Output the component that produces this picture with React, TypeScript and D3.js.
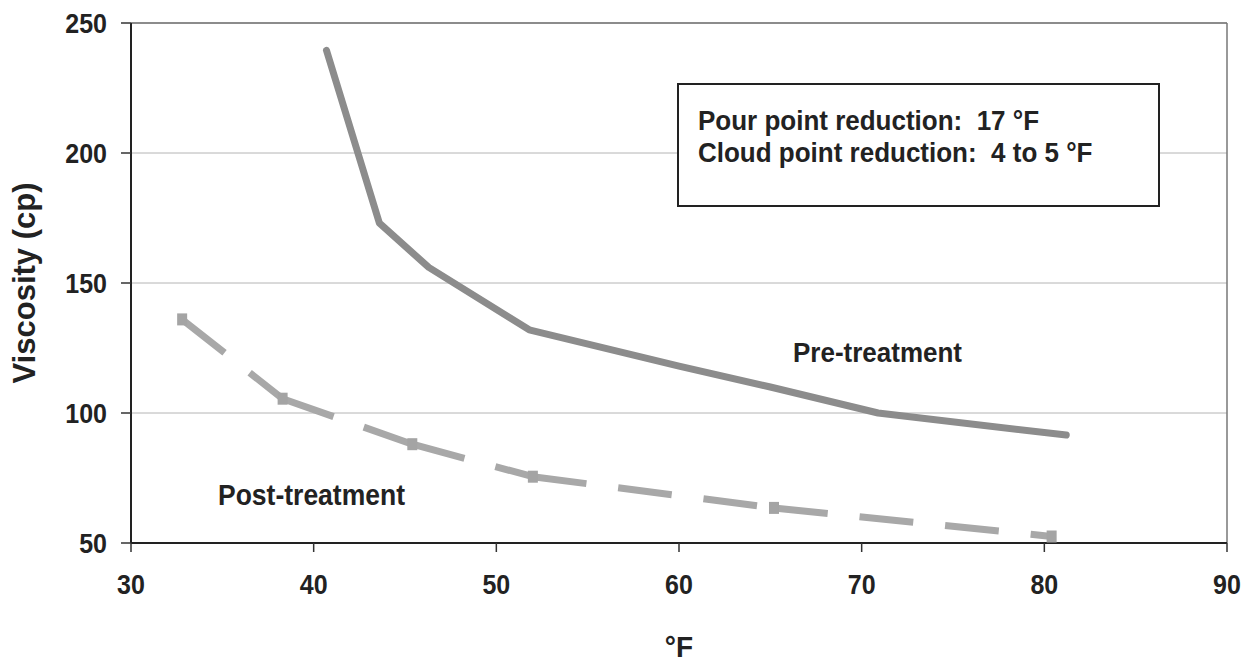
import React from 'react';
import * as d3 from 'd3';

// Viscosity vs temperature, before and after treatment
const preTemp = [40.7, 43.6, 46.3, 51.8, 60, 65, 70.9, 81.2];
const preVisc = [239.5, 173, 156, 132, 118, 110, 100, 91.5];

const postTemp = [32.8, 38.3, 45.4, 52, 65.2, 80.4];
const postVisc = [136, 105.5, 88, 75.5, 63.5, 52.5];

const xTicks = [30, 40, 50, 60, 70, 80, 90];
const yTicks = [50, 100, 150, 200, 250];

const noteLines = ['Pour point reduction:  17 °F', 'Cloud point reduction:  4 to 5 °F'];

const W = 1245;
const H = 665;
const font = "'Liberation Sans', Arial, sans-serif";

// scanned text is a little taller than it is wide
const T: React.FC<{
  x: number;
  y: number;
  size: number;
  sy?: number;
  anchor?: 'start' | 'middle' | 'end';
  rotate?: number;
  children: React.ReactNode;
}> = ({ x, y, size, sy = 1.08, anchor = 'start', rotate = 0, children }) => (
  <text
    transform={`translate(${x},${y}) rotate(${rotate}) scale(1,${sy})`}
    textAnchor={anchor}
    fontSize={size}
    fill="#222"
    style={{ whiteSpace: 'pre' }}
  >
    {children}
  </text>
);

const App: React.FC = () => {
  const x = d3.scaleLinear().domain([30, 90]).range([131, 1227]);
  const y = d3.scaleLinear().domain([50, 250]).range([543, 23]);

  const line = d3
    .line<[number, number]>()
    .x((d) => x(d[0]))
    .y((d) => y(d[1]));

  const pre: [number, number][] = preTemp.map((t, i) => [t, preVisc[i]]);
  const post: [number, number][] = postTemp.map((t, i) => [t, postVisc[i]]);
  // Excel restarts the dash pattern at every point, so draw each segment on its own
  const postSegs = d3.pairs(post);

  const [x0, x1] = x.range();
  const [y0, y1] = y.range();

  return (
    <svg
      width={W}
      height={H}
      style={{ position: 'fixed', left: 0, top: 0, background: '#fff' }}
      fontFamily={font}
      fontWeight="bold"
    >
      {/* grid */}
      {yTicks.map((t) => (
        <line
          key={t}
          x1={x0}
          x2={x1}
          y1={y(t)}
          y2={y(t)}
          stroke={t === 250 ? '#666' : '#b4b4b4'}
          strokeWidth={t === 250 ? 1.5 : 1}
        />
      ))}
      <line x1={x1} x2={x1} y1={y1} y2={y0} stroke="#777" strokeWidth={1.5} />

      {/* axes */}
      <line x1={x0} x2={x0} y1={y1} y2={y0} stroke="#222" strokeWidth={2} />
      <line x1={x0} x2={x1} y1={y0} y2={y0} stroke="#222" strokeWidth={2} />
      {yTicks.map((t) => (
        <g key={t}>
          <line x1={x0 - 10} x2={x0} y1={y(t)} y2={y(t)} stroke="#333" strokeWidth={1.5} />
          <T x={x0 - 24} y={y(t) + 9.5} size={25} sy={1.12} anchor="end">
            {t}
          </T>
        </g>
      ))}
      {xTicks.map((t) => (
        <g key={t}>
          <line x1={x(t)} x2={x(t)} y1={y0} y2={y0 + 9} stroke="#333" strokeWidth={1.5} />
          <T x={x(t)} y={y0 + 51} size={25} sy={1.1} anchor="middle">
            {t}
          </T>
        </g>
      ))}

      {/* axis titles */}
      <T x={35} y={(y0 + y1) / 2} size={31} sy={1} rotate={-90} anchor="middle">
        Viscosity (cp)
      </T>
      <T x={(x0 + x1) / 2} y={657} size={28} sy={1.05} anchor="middle">
        °F
      </T>

      {/* series */}
      <path
        d={line(pre) ?? ''}
        fill="none"
        stroke="#8c8c8c"
        strokeWidth={7}
        strokeLinejoin="round"
        strokeLinecap="round"
      />
      {postSegs.map(([a, b], i) => (
        <path
          key={i}
          d={line([a, b]) ?? ''}
          fill="none"
          stroke="#a8a8a8"
          strokeWidth={7}
          strokeDasharray="54 32"
        />
      ))}
      {post.map((d, i) => (
        <rect key={i} x={x(d[0]) - 5} y={y(d[1]) - 6} width={10} height={12} fill="#a4a4a4" />
      ))}

      {/* labels */}
      <T x={793} y={362} size={26}>Pre-treatment</T>
      <T x={218} y={505} size={26.5}>Post-treatment</T>

      {/* note box */}
      <rect x={678} y={84} width={481} height={122} fill="#fff" stroke="#222" strokeWidth={2} />
      {noteLines.map((s, i) => (
        <T key={i} x={698} y={129.5 + i * 32} size={26} sy={1.04}>
          {s}
        </T>
      ))}
    </svg>
  );
};

export default App;
